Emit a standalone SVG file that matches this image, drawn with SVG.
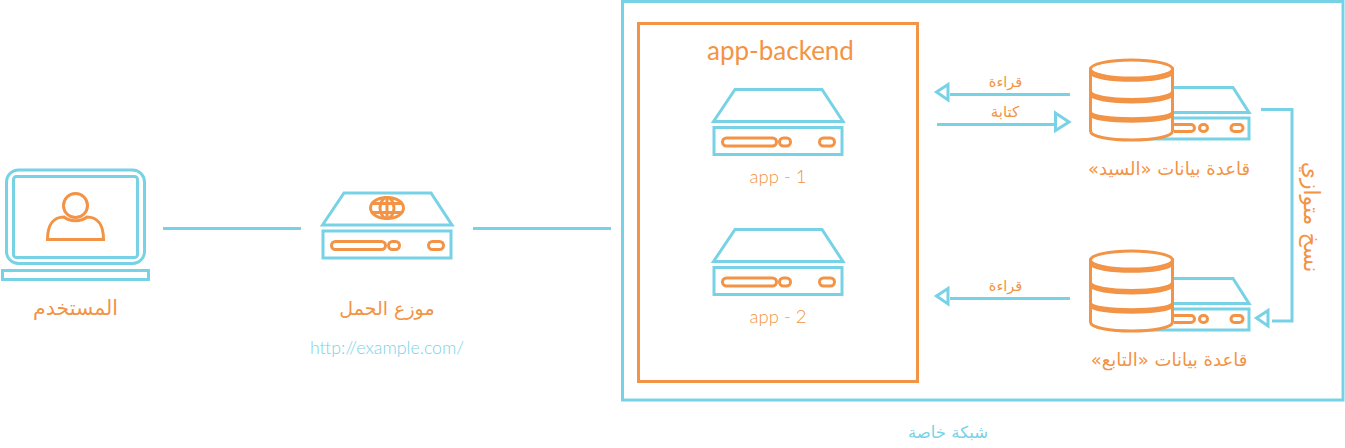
<svg xmlns="http://www.w3.org/2000/svg" width="1345" height="448" viewBox="0 0 1345 448">
<style>
.b{fill:none;stroke:#78d2e6;stroke-width:3}
.o{fill:none;stroke:#f39345;stroke-width:3}
.w{fill:#fff;stroke:#f39345;stroke-width:3}
.t{font-family:"Lato","DejaVu Sans",sans-serif;font-weight:300;fill:#f39345;text-anchor:middle}
.a{font-family:"DejaVu Sans",sans-serif;font-weight:400;fill:#f39345;text-anchor:middle;direction:rtl}
</style>
<defs>
<g id="srv">
<path class="b" d="M1 32 L22.500 0 H109.500 L130.500 32 Z"/>
<rect class="b" x="1.500" y="38" width="128" height="27"/>
<rect class="o" x="10" y="48.500" width="54" height="8" rx="4"/>
<rect class="o" x="67" y="48.500" width="11" height="8" rx="4"/>
<rect class="o" x="107" y="48.500" width="15" height="8" rx="4"/>
</g>
<g id="db">
<path class="b" d="M1174 27.500 H1233 L1249 52.500 H1174 M1174 58 H1249 V79 H1140"/>
<path class="o" d="M1174 64.500 H1191 A3.500 3.500 0 0 1 1191 71.500 H1174"/>
<rect class="o" x="1199.500" y="64.500" width="8" height="7" rx="3.500"/>
<rect class="o" x="1231" y="64.500" width="12" height="7" rx="3.500"/>
<path class="w" d="M1090.500 9 V71 C1090.500 83 1172.500 83 1172.500 71 V9 Z"/>
<ellipse class="w" cx="1131.500" cy="9" rx="41" ry="9"/>
<path class="o" d="M1090.500 12 C1092 23 1171 23 1172.500 12"/>
<path class="o" d="M1090.500 31.500 C1092 42 1171 42 1172.500 31.500 M1090.500 34 C1092 44.500 1171 44.500 1172.500 34"/>
<path class="o" d="M1090.500 52 C1092 61 1171 61 1172.500 52 M1090.500 54.500 C1092 63.500 1171 63.500 1172.500 54.500"/>
</g>
</defs>

<rect id="private-net" class="b" x="622.500" y="1.500" width="720.500" height="398.500"/>
<text class="a" x="948" y="438" font-size="16.500" style="fill:#78d2e6">شبكة خاصة</text>

<g id="user">
<rect class="b" x="6.500" y="170" width="138" height="93.500" rx="12"/>
<rect class="b" x="13.500" y="176.500" width="124" height="81" rx="3"/>
<rect class="b" x="2.500" y="270.500" width="146" height="9"/>
<circle class="o" cx="75.500" cy="205.500" r="12"/>
<path class="o" d="M47.500 239.500 C47.500 224 54 217 64 217 C70 222 81 222 87 217 C97 217 103.500 224 103.500 239.500 Z"/>
<text class="a" x="75.500" y="315" font-size="20.500">المستخدم</text>
</g>

<g id="lb">
<use href="#srv" transform="translate(321.500,193)"/>
<ellipse class="o" cx="387" cy="208" rx="16.500" ry="10.500"/>
<ellipse class="o" cx="387" cy="208" rx="7" ry="10.500"/>
<path class="o" stroke-width="2" d="M372 203.500 H402 M372 212.500 H402 M387 198 V218"/>
<text class="a" x="387" y="315" font-size="19">موزع الحمل</text>
<text class="t" x="387" y="354" font-size="17.800" style="fill:#78d2e6">http://example.com/</text>
</g>

<g id="app-backend">
<rect class="o" x="638.500" y="23.500" width="279" height="358"/>
<text class="t" x="780.500" y="60" font-size="26" style="font-weight:400">app-backend</text>
</g>
<g id="app-1">
<use href="#srv" transform="translate(712.500,89.500)"/>
<text class="t" x="778" y="183" font-size="18.500">app - 1</text>
</g>
<g id="app-2">
<use href="#srv" transform="translate(712.500,229.500)"/>
<text class="t" x="778" y="323" font-size="18.500">app - 2</text>
</g>

<g id="db-master">
<use href="#db" transform="translate(0,60)"/>
<text class="a" x="1169" y="175" font-size="18">قاعدة بيانات «السيد»</text>
</g>
<g id="db-replica">
<use href="#db" transform="translate(0,251)"/>
<text class="a" x="1169" y="366" font-size="18">قاعدة بيانات «التابع»</text>
</g>

<g id="connectors">
<path class="b" d="M163 228.500 H301 M473 228.500 H611"/>
<path class="b" d="M950 94.500 H1070"/>
<path class="b" d="M937 124.500 H1055"/>
<path class="b" d="M950 298.500 H1070"/>
<path class="b" d="M1261 109.500 H1292 V321 H1272"/>
<path class="b" d="M936.500 92 L948 84.500 V100 Z"/>
<path class="b" d="M1069 122 L1055.500 113 V130.500 Z"/>
<path class="b" d="M936.500 296 L948 288.500 V304 Z"/>
<path class="b" d="M1256.500 318 L1268 310.500 V326 Z"/>
</g>
<g id="labels">
<text class="a" x="1005.500" y="87" font-size="14.500">قراءة</text>
<text class="a" x="1005" y="117" font-size="15">كتابة</text>
<text class="a" x="1005.500" y="291" font-size="14.500">قراءة</text>
<text class="a" x="0" y="0" font-size="22" transform="translate(1304,217) rotate(90)">نسخ متوازي</text>
</g>
</svg>
